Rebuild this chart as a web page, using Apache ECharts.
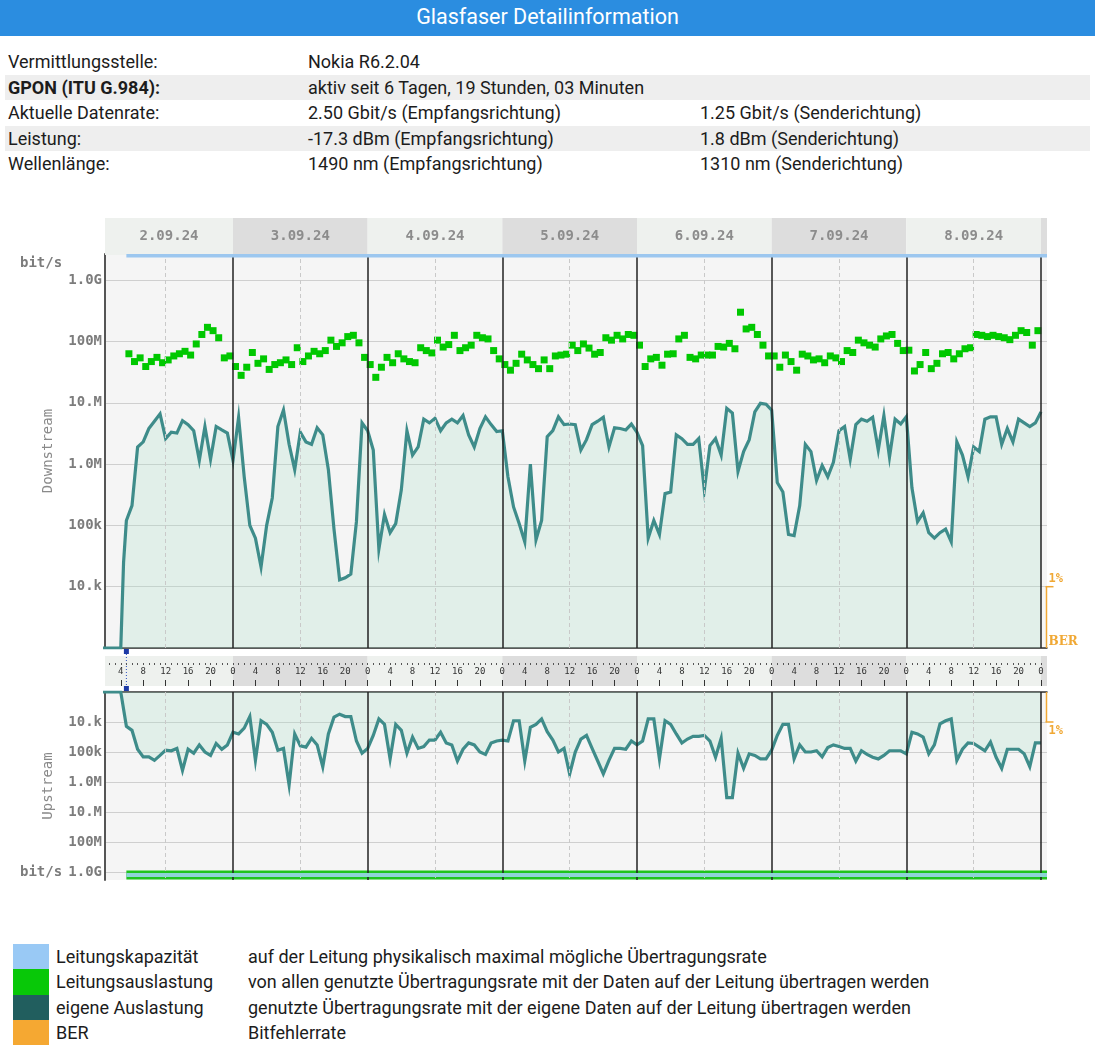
<!DOCTYPE html>
<html>
<head>
<meta charset="utf-8">
<title>Glasfaser Detailinformation</title>
<script src="https://cdn.jsdelivr.net/npm/echarts@6/dist/echarts.min.js"></script>
<style>
  html, body { margin: 0; padding: 0; background: #fff; }
  body { width: 1095px; height: 1062px; position: relative; overflow: hidden; font-family: Roboto, "Noto Sans", sans-serif; color: #1c1c1c; }
  .title { position: absolute; left: 0; top: 0; width: 1095px; height: 36px; background: #2b8de0; color: #fff; font-size: 21.5px; line-height: 33px; text-align: center; }
  .row { position: absolute; left: 5px; width: 1085px; height: 25.5px; font-size: 18px; line-height: 25.5px; }
  .row.alt { background: #eeeeee; }
  .row span { position: absolute; top: 0; }
  .c1 { left: 3px; } .c2 { left: 303px; } .c3 { left: 695px; }
  .lg { position: absolute; left: 0; height: 25.3px; font-size: 18px; line-height: 25px; }
  .lg i { position: absolute; left: 13px; top: 0; width: 36px; height: 25.3px; }
  .lg .n { position: absolute; left: 56px; white-space: nowrap; }
  .lg .d { position: absolute; left: 248px; white-space: nowrap; }
  #chart { position: absolute; left: 0; top: 0; width: 1095px; height: 1062px; }
</style>
</head>
<body>
<div class="title">Glasfaser Detailinformation</div>

<div class="row" style="top:49px"><span class="c1">Vermittlungsstelle:</span><span class="c2">Nokia R6.2.04</span></div>
<div class="row alt" style="top:74.5px"><span class="c1"><b>GPON (ITU G.984):</b></span><span class="c2">aktiv seit 6 Tagen, 19 Stunden, 03 Minuten</span></div>
<div class="row" style="top:100px"><span class="c1">Aktuelle Datenrate:</span><span class="c2">2.50 Gbit/s (Empfangsrichtung)</span><span class="c3">1.25 Gbit/s (Senderichtung)</span></div>
<div class="row alt" style="top:125.5px"><span class="c1">Leistung:</span><span class="c2">-17.3 dBm (Empfangsrichtung)</span><span class="c3">1.8 dBm (Senderichtung)</span></div>
<div class="row" style="top:151px"><span class="c1">Wellenlänge:</span><span class="c2">1490 nm (Empfangsrichtung)</span><span class="c3">1310 nm (Senderichtung)</span></div>

<div class="lg" style="top:944px"><i style="background:#99c9f5"></i><span class="n">Leitungskapazität</span><span class="d">auf der Leitung physikalisch maximal mögliche Übertragungsrate</span></div>
<div class="lg" style="top:969.3px"><i style="background:#08c808"></i><span class="n">Leitungsauslastung</span><span class="d">von allen genutzte Übertragungsrate mit der Daten auf der Leitung übertragen werden</span></div>
<div class="lg" style="top:994.6px"><i style="background:#215e5e"></i><span class="n">eigene Auslastung</span><span class="d">genutzte Übertragungsrate mit der eigene Daten auf der Leitung übertragen werden</span></div>
<div class="lg" style="top:1019.9px"><i style="background:#f5a832"></i><span class="n">BER</span><span class="d">Bitfehlerrate</span></div>

<div id="chart"></div>

<script>
// Stunden ab 2.09.24 00:00, erste Messung um 05:00
const startHour = 5;
const dayLabels = ['2.09.24', '3.09.24', '4.09.24', '5.09.24', '6.09.24', '7.09.24', '8.09.24'];
const yLabelText = { 4: '10.k', 5: '100k', 6: '1.0M', 7: '10.M', 8: '100M', 9: '1.0G' };

// Leitungskapazität (bit/s)
const downCapacity = 2.5e9;
const upCapacity = 1.25e9;

// eigene Auslastung Downstream, stündlich 05:00 (2.09) .. 00:00 (9.09)
const downOwn = [
  1.2e5, 2.1e5, 1.9e6, 2.3e6, 3.8e6, 5e6, 6.6e6, 2.6e6, 3.3e6, 3.2e6, 5.1e6, 4.4e6, 3.5e6, 1.15e6, 4.1e6, 1.2e6, 4.1e6, 3.6e6, 3.2e6,
  1.15e6, 5.8e6, 6.2e5, 1e5, 6.2e4, 2.1e4, 1e5, 2.8e5, 4.1e6, 7.6e6, 2.1e6, 8.1e5, 3.3e6, 2.3e6, 2.1e6, 3.9e6, 3e6, 8.1e5, 8.7e4, 1.3e4, 1.4e4, 1.6e4, 1.15e5, 4.7e6,
  3.5e6, 1.7e6, 4.1e4, 1.5e5, 7.6e4, 1.07e5, 3.8e5, 3.5e6, 1.4e6, 1.9e6, 5.4e6, 4.7e6, 5.6e6, 3.5e6, 4.7e6, 5.4e6, 4.7e6, 6.2e6, 3e6, 1.9e6, 3.8e6, 5.9e6, 4.4e6, 3.4e6,
  3.5e6, 6.2e5, 2e5, 1.07e5, 5.4e4, 1e6, 5.8e4, 1.2e5, 2.8e6, 3.5e6, 5.9e6, 4.4e6, 4.5e6, 4.4e6, 1.7e6, 2.5e6, 4.4e6, 5e6, 5.8e6, 1.9e6, 3.9e6, 3.8e6, 3.6e6, 4.5e6,
  3.3e6, 2e6, 6.2e4, 1.2e5, 7.1e4, 3.3e5, 3.5e5, 3e6, 2.6e6, 2.1e6, 2.1e6, 2.6e6, 3.8e5, 2e6, 2.6e6, 1.4e6, 8.1e6, 6.8e6, 7.6e5, 1.6e6, 2.5e6, 7.1e6, 9.8e6, 9.5e6,
  7.6e6, 5e5, 3.5e5, 7.1e4, 6.8e4, 2.1e5, 2.1e6, 1.6e6, 5.4e5, 9.5e5, 6.2e5, 1.07e6, 3.5e6, 4.1e6, 1.2e6, 4.4e6, 5.4e6, 5e6, 5.8e6, 1.7e6, 6.2e6, 1.3e6, 5.4e6, 4.5e6,
  5.9e6, 4.1e5, 1.15e5, 1.6e5, 7.6e4, 6.2e4, 7.6e4, 8.7e4, 5.4e4, 2.3e6, 1.4e6, 6.2e5, 1.9e6, 1.6e6, 5.4e6, 5.9e6, 5.9e6, 2.1e6, 3.8e6, 2.3e6, 5.4e6, 4.7e6, 4.1e6, 4.7e6, 7.1e6
];

// Leitungsauslastung Downstream, stündlich 05:00 .. 23:00 (8.09)
const downUtil = [
  6.3e7, 4.7e7, 5.4e7, 3.9e7, 4.7e7, 5.5e7, 4.5e7, 5e7, 5.8e7, 6.3e7, 6.9e7, 6e7, 9.1e7, 1.3e8, 1.7e8, 1.5e8, 1.15e8, 5.4e7, 5.8e7,
  3.9e7, 2.8e7, 3.8e7, 6.6e7, 4.4e7, 5.2e7, 3.5e7, 4.2e7, 4.5e7, 5e7, 4.2e7, 7.9e7, 4.7e7, 5.8e7, 6.9e7, 6.3e7, 7.1e7, 1.05e8, 8.3e7, 9.5e7, 1.2e8, 1.26e8, 9.5e7, 5.5e7,
  4.2e7, 2.6e7, 3.8e7, 5.5e7, 4.5e7, 6.3e7, 5.2e7, 4.7e7, 4.5e7, 7.9e7, 7.1e7, 6.5e7, 1.05e8, 8.1e7, 8.9e7, 1.26e8, 7.1e7, 7.9e7, 8.7e7, 1.26e8, 1.15e8, 1.1e8, 7.1e7, 5.2e7,
  4.2e7, 3.4e7, 4.4e7, 6.2e7, 5e7, 4.2e7, 3.6e7, 5e7, 3.6e7, 5.8e7, 6e7, 6.2e7, 8.7e7, 7.1e7, 9.1e7, 7.8e7, 6.2e7, 6.6e7, 1.15e8, 1.05e8, 1.26e8, 1.1e8, 1.3e8, 1.26e8,
  8.7e7, 3.9e7, 5.2e7, 5.5e7, 4.1e7, 6.2e7, 6.3e7, 1.1e8, 1.26e8, 5.5e7, 5.2e7, 6e7, 6e7, 6e7, 8.3e7, 8.1e7, 9.3e7, 7.6e7, 3e8, 1.6e8, 1.7e8, 1.3e8, 8.7e7, 5.8e7,
  5.8e7, 3.8e7, 6e7, 4.7e7, 3.4e7, 6.2e7, 5.8e7, 5e7, 5.2e7, 4.5e7, 5.8e7, 5.4e7, 4.7e7, 7.1e7, 6.6e7, 1.05e8, 9.5e7, 8.7e7, 8.1e7, 1.1e8, 1.23e8, 1.3e8, 9.3e7, 7.1e7,
  7.2e7, 3.3e7, 4.2e7, 6.6e7, 3.6e7, 4.4e7, 6.3e7, 6.6e7, 5.2e7, 6.3e7, 7.6e7, 7.9e7, 1.3e8, 1.26e8, 1.2e8, 1.26e8, 1.2e8, 1.15e8, 1.07e8, 1.26e8, 1.5e8, 1.4e8, 8.7e7, 1.5e8
];

// eigene Auslastung Upstream, stündlich 05:00 (2.09) .. 00:00 (9.09)
const upOwn = [
  1.4e4, 1.9e4, 8.1e4, 1.45e5, 1.45e5, 1.9e5, 1.3e5, 8.7e4, 9.1e4, 7.6e4, 4.1e5, 8.1e4, 1.1e5, 5.8e4, 1e5, 1.3e5, 5.2e4, 8.1e4, 5.8e4,
  2.2e4, 2.5e4, 1.6e4, 6.6e3, 1.9e5, 9.1e3, 1.2e4, 2.2e4, 8.7e4, 7.6e4, 1.26e6, 2.5e4, 6.2e4, 6.9e4, 3.5e4, 5.8e4, 3.1e5, 2.5e4, 6.9e3, 5.5e3, 6.6e3, 6.6e3, 4.3e4, 1.1e5,
  7.6e4, 2.8e4, 7.9e3, 1.2e4, 1.7e5, 1.2e4, 1.9e4, 1.1e5, 3.2e4, 7.6e4, 6.6e4, 4e4, 4e4, 2.2e4, 5e4, 5.8e4, 2e5, 8.1e4, 5e4, 5.8e4, 1e5, 1.2e5, 5e4, 4.3e4,
  4e4, 4.3e4, 9.1e3, 9.1e3, 2e5, 1.5e4, 1.2e4, 7.9e3, 2.1e4, 4e4, 1e5, 7.6e4, 5.4e5, 1e5, 3.7e4, 2.8e4, 7.6e4, 2e5, 5.4e5, 1.9e5, 7.6e4, 7.6e4, 8.1e4, 4.3e4,
  5.8e4, 4.3e4, 7.9e3, 7.9e3, 1.7e5, 9.1e3, 1.2e4, 2.5e4, 5e4, 3.7e4, 3e4, 3e4, 2.8e4, 4.3e4, 1.5e5, 3.5e4, 3.3e6, 3.3e6, 1.1e5, 3.5e5, 1.15e5, 1.3e5, 1.7e5, 1.7e5,
  8.7e4, 2.8e4, 1.2e4, 1.2e4, 1.7e5, 5.8e4, 1e5, 1e5, 9.1e4, 1.45e5, 7.1e4, 5.8e4, 6.6e4, 7.6e4, 7.6e4, 2e5, 9.1e4, 1.2e5, 1.5e5, 1.7e5, 1.3e5, 9.1e4, 9.1e4, 9.1e4,
  1.15e5, 2.2e4, 2.5e4, 3.2e4, 1.15e5, 5.8e4, 1.15e4, 9.1e3, 7.9e3, 1.9e5, 8.1e4, 5e4, 5.2e4, 6.9e4, 9.1e4, 4.7e4, 1.5e5, 3.5e5, 8.1e4, 8.1e4, 8.1e4, 1.15e5, 3.1e5, 5e4, 5e4
];

// Achsenbereich (Stunden / bit/s)
const X_MIN = 1.19, X_MAX = 169.07;
const DOWN_MIN = 1e3, DOWN_MAX = 2.67e9;
const UP_MIN = 1e3, UP_MAX = 1.85e9;

const MONO = "'DejaVu Sans Mono', monospace";
const TEAL = '#3e8c8a';
const FILL = 'rgba(168,222,198,0.36)';
const GREEN = '#00c800';
const ORANGE = '#f0a834';

// Hilfsfunktionen
function hourly(values, offset) {
  return values.map(function (v, i) { return [startHour + i + offset, v]; });
}
function yLabel(v) {
  var e = Math.log10(v), r = Math.round(e);
  return Math.abs(e - r) < 0.01 ? (yLabelText[r] || '') : '';
}

// Tagesbänder für Kopfzeile und Stundenleiste
var dayBands = dayLabels.map(function (lbl, i) {
  return [
    { name: lbl, xAxis: Math.max(X_MIN, i * 24), itemStyle: { color: i % 2 ? '#dddddd' : '#eef1ee' } },
    { xAxis: (i + 1) * 24 }
  ];
});
dayBands.push([{ name: '', xAxis: 168, itemStyle: { color: '#dddddd' } }, { xAxis: X_MAX }]);

var allHours = [], labelHours = [];
for (var h = 2; h <= 168; h++) {
  allHours.push(h);
  if (h % 4 === 0) labelHours.push(h);
}

var dayLines = [];
for (var d = 0; d < 7; d++) {
  dayLines.push({ xAxis: d * 24 + 12, lineStyle: { color: '#c9c9c9', type: [4, 3], width: 1 } });
  dayLines.push({ xAxis: (d + 1) * 24, lineStyle: { color: '#222', type: 'solid', width: 1.5 } });
}

// vor der ersten Messung: keine Daten
var downOwnData = [[X_MIN - 1, 1e3], [4, 1e3], [4.5, 2.5e4]].concat(hourly(downOwn, 0));
var upOwnData = [[X_MIN - 1, 1e3], [4, 1e3]].concat(hourly(upOwn, 0));

var chart = echarts.init(document.getElementById('chart'), null, { renderer: 'canvas' });

var xBase = { type: 'value', min: X_MIN, max: X_MAX, axisLabel: { show: false }, axisTick: { show: false }, splitLine: { show: false }, axisLine: { show: false } };

var option = {
  animation: false,
  grid: [
    { left: 105, width: 942, top: 218, height: 37 },
    { left: 105, width: 942, top: 254, height: 394, show: true, backgroundColor: '#f5f5f5', borderWidth: 0 },
    { left: 105, width: 942, top: 656, height: 30 },
    { left: 105, width: 942, top: 692, height: 188, show: true, backgroundColor: '#f5f5f5', borderWidth: 0 }
  ],
  xAxis: [
    Object.assign({}, xBase, { gridIndex: 0 }),
    Object.assign({}, xBase, { gridIndex: 1, axisLine: { show: true, onZero: false, lineStyle: { color: '#333', width: 1.5 } } }),
    // Stundenleiste: Beschriftung alle 4 Stunden
    Object.assign({}, xBase, { gridIndex: 2, position: 'bottom', offset: -24, z: 10,
      axisTick: { show: true, customValues: labelHours, length: 6, lineStyle: { color: '#333' } },
      axisLabel: { show: true, customValues: labelHours, formatter: function (v) { return String(Math.round(v) % 24); },
        fontFamily: MONO, fontSize: 9, color: '#333', margin: 5 } }),
    // Stundenleiste: Punkte jede Stunde
    Object.assign({}, xBase, { gridIndex: 2, position: 'top', offset: -7, z: 10,
      axisTick: { show: true, inside: true, customValues: allHours, length: 2, lineStyle: { color: '#555' } } }),
    Object.assign({}, xBase, { gridIndex: 3, position: 'top', axisLine: { show: true, onZero: false, lineStyle: { color: '#333', width: 1.5 } } })
  ],
  yAxis: [
    { gridIndex: 0, type: 'value', min: 0, max: 1, show: false },
    { gridIndex: 1, type: 'log', logBase: 10, min: DOWN_MIN, max: DOWN_MAX,
      name: 'Downstream', nameLocation: 'middle', nameRotate: 90, nameGap: 50,
      nameTextStyle: { fontFamily: MONO, fontSize: 14, color: '#8a8a8a' },
      axisLine: { show: true, lineStyle: { color: '#555', width: 2 } },
      axisTick: { show: false },
      axisLabel: { formatter: yLabel, fontFamily: MONO, fontSize: 14, fontWeight: 'bold', color: '#7c7c7c', margin: 3 },
      splitLine: { show: true, showMaxLine: false, lineStyle: { color: '#cfcfcf', width: 1 } } },
    { gridIndex: 2, type: 'value', min: 0, max: 1, show: false },
    { gridIndex: 3, type: 'log', logBase: 10, min: UP_MIN, max: UP_MAX, inverse: true,
      name: 'Upstream', nameLocation: 'middle', nameRotate: 90, nameGap: 50,
      nameTextStyle: { fontFamily: MONO, fontSize: 14, color: '#8a8a8a' },
      axisLine: { show: true, lineStyle: { color: '#555', width: 2 } },
      axisTick: { show: false },
      axisLabel: { formatter: yLabel, fontFamily: MONO, fontSize: 14, fontWeight: 'bold', color: '#7c7c7c', margin: 3 },
      splitLine: { show: true, showMaxLine: false, lineStyle: { color: '#cfcfcf', width: 1 } } }
  ],
  series: [
    // Kopfzeile mit Datum
    { type: 'line', xAxisIndex: 0, yAxisIndex: 0, data: [], silent: true, z: 1,
      markArea: { silent: true, data: dayBands,
        label: { show: true, position: 'inside', fontFamily: MONO, fontSize: 14, fontWeight: 'bold', color: '#8c8c8c' } } },
    // Stundenleiste
    { type: 'line', xAxisIndex: 2, yAxisIndex: 2, data: [], silent: true, z: 1,
      markArea: { silent: true, data: dayBands, label: { show: false } } },
    // Downstream eigene Auslastung
    { name: 'eigene Auslastung', type: 'line', xAxisIndex: 1, yAxisIndex: 1, data: downOwnData,
      showSymbol: false, symbol: 'none', z: 3,
      lineStyle: { color: TEAL, width: 3.2, join: 'miter' },
      areaStyle: { color: FILL, origin: 'start' },
      markLine: { silent: true, symbol: ['none', 'none'], label: { show: false }, data: dayLines } },
    // Downstream Leitungsauslastung
    { name: 'Leitungsauslastung', type: 'scatter', xAxisIndex: 1, yAxisIndex: 1, data: hourly(downUtil, 0.45),
      symbol: 'rect', symbolSize: 7, itemStyle: { color: GREEN, opacity: 1 }, z: 4 },
    // Downstream Leitungskapazität
    { name: 'Leitungskapazität', type: 'line', xAxisIndex: 1, yAxisIndex: 1, clip: false,
      data: [[startHour, downCapacity], [X_MAX, downCapacity]],
      symbol: 'none', lineStyle: { color: '#9cc7ef', width: 3.5 }, z: 5 },
    // Upstream eigene Auslastung
    { name: 'eigene Auslastung', type: 'line', xAxisIndex: 4, yAxisIndex: 3, data: upOwnData,
      showSymbol: false, symbol: 'none', z: 3,
      lineStyle: { color: TEAL, width: 3.2, join: 'miter' },
      areaStyle: { color: FILL, origin: 'start' },
      markLine: { silent: true, symbol: ['none', 'none'], label: { show: false }, data: dayLines } },
    // Upstream Leitungsauslastung (Band an der Kapazitätsgrenze)
    { name: 'Leitungsauslastung', type: 'line', xAxisIndex: 4, yAxisIndex: 3, clip: false,
      data: [[startHour, upCapacity], [X_MAX, upCapacity]],
      symbol: 'none', lineStyle: { color: '#1ec41e', width: 9 }, z: 4 },
    // Upstream Leitungskapazität
    { name: 'Leitungskapazität', type: 'line', xAxisIndex: 4, yAxisIndex: 3, clip: false,
      data: [[startHour, upCapacity], [X_MAX, upCapacity]],
      symbol: 'none', lineStyle: { color: '#8ed3d8', width: 4 }, z: 5 }
  ]
};

chart.setOption(option);

// Zusatzelemente: Startmarke, BER-Skala, Einheiten
var pDown = chart.convertToPixel({ gridIndex: 1 }, [startHour, DOWN_MIN]);
var pUp = chart.convertToPixel({ gridIndex: 3 }, [startHour, UP_MIN]);
var berDown1 = chart.convertToPixel({ gridIndex: 1 }, [X_MAX, 1e4]);
var berDown0 = chart.convertToPixel({ gridIndex: 1 }, [X_MAX, DOWN_MIN]);
var berUp1 = chart.convertToPixel({ gridIndex: 3 }, [X_MAX, 1e4]);
var berUp0 = chart.convertToPixel({ gridIndex: 3 }, [X_MAX, UP_MIN]);
var bx = berDown1[0] - 0.5;

var graphics = [
  { type: 'line', shape: { x1: pDown[0], y1: pDown[1] + 3, x2: pUp[0], y2: pUp[1] - 3 },
    style: { stroke: '#2a4fc0', lineWidth: 1, lineDash: [1, 2] }, z: 10 },
  { type: 'rect', shape: { x: pDown[0] - 2.5, y: pDown[1] + 1, width: 5, height: 5 }, style: { fill: '#1d3aa6' }, z: 10 },
  { type: 'rect', shape: { x: pUp[0] - 2.5, y: pUp[1] - 6, width: 5, height: 5 }, style: { fill: '#1d3aa6' }, z: 10 },

  { type: 'line', shape: { x1: bx, y1: berDown1[1], x2: bx, y2: berDown0[1] }, style: { stroke: ORANGE, lineWidth: 1.5 }, z: 10 },
  { type: 'line', shape: { x1: bx - 1, y1: berDown1[1], x2: bx + 7, y2: berDown1[1] }, style: { stroke: ORANGE, lineWidth: 1.5 }, z: 10 },
  { type: 'text', x: bx + 2, y: berDown1[1] - 8, style: { text: '1%', fill: ORANGE, font: 'bold 12px ' + MONO, verticalAlign: 'middle' }, z: 10 },
  { type: 'text', x: bx + 2, y: berDown0[1] - 6, style: { text: 'BER', fill: ORANGE, font: "bold 12px 'DejaVu Serif', serif", verticalAlign: 'middle' }, z: 10 },

  { type: 'line', shape: { x1: bx, y1: berUp0[1], x2: bx, y2: berUp1[1] }, style: { stroke: ORANGE, lineWidth: 1.5 }, z: 10 },
  { type: 'line', shape: { x1: bx - 1, y1: berUp1[1], x2: bx + 7, y2: berUp1[1] }, style: { stroke: ORANGE, lineWidth: 1.5 }, z: 10 },
  { type: 'text', x: bx + 2, y: berUp1[1] + 9, style: { text: '1%', fill: ORANGE, font: 'bold 12px ' + MONO, verticalAlign: 'middle' }, z: 10 },

  { type: 'text', x: 20, y: 263, style: { text: 'bit/s', fill: '#7c7c7c', font: 'bold 14px ' + MONO, verticalAlign: 'middle' } },
  { type: 'text', x: 20, y: 872, style: { text: 'bit/s', fill: '#7c7c7c', font: 'bold 14px ' + MONO, verticalAlign: 'middle' } }
];

chart.setOption({ graphic: graphics });
</script>
</body>
</html>
